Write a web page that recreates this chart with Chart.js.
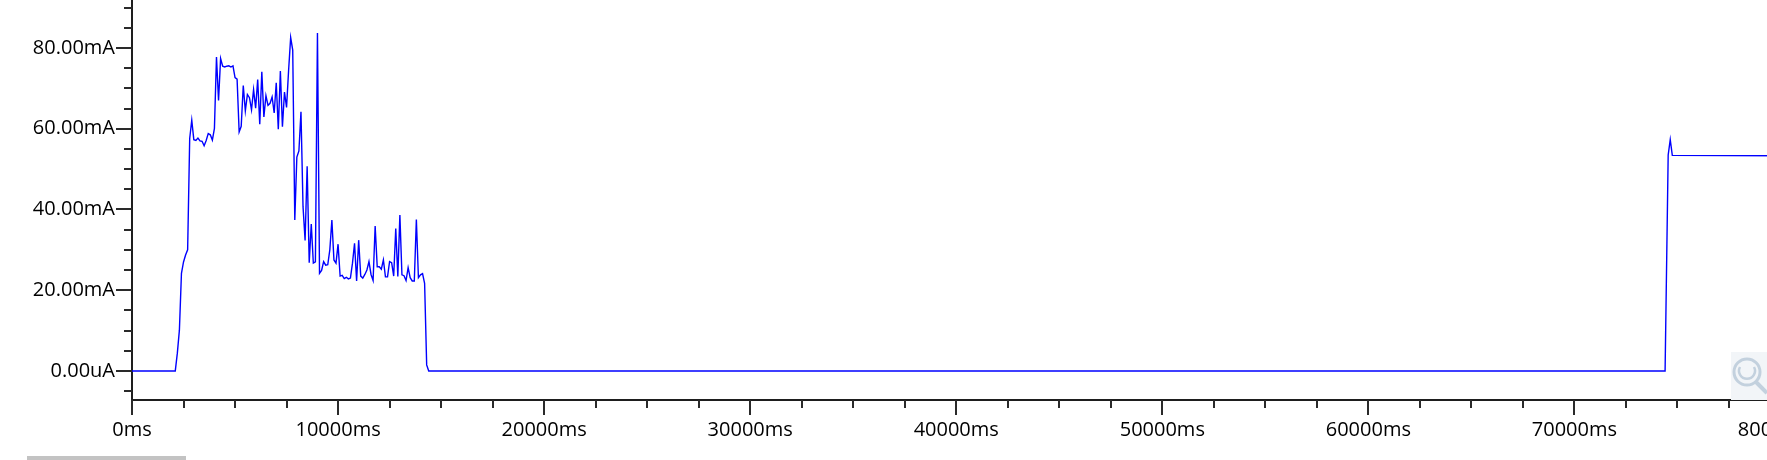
<!DOCTYPE html>
<html>
<head>
<meta charset="utf-8">
<script src="https://cdn.jsdelivr.net/npm/chart.js@4/dist/chart.umd.min.js"></script>
<style>
    html, body { margin: 0; padding: 0; background: #fff; overflow: hidden; width: 1767px; height: 460px; }
    #wrap { position: absolute; left: 0; top: 0; width: 1900px; height: 460px; }
    #scrollbar { position: absolute; left: 27px; top: 456px; width: 159px; height: 4px; background: #c3c3c3; }
    #zoomIcon { position: absolute; left: 1731px; top: 352px; }
</style>
</head>
<body>
<div id="wrap"><canvas id="current-log" width="1900" height="460"></canvas></div>
<div id="scrollbar"></div>
<svg id="zoomIcon" width="36" height="48">
    <rect x="0" y="0" width="36" height="48" fill="#f2f5f8"/>
    <circle cx="16" cy="20" r="13" fill="none" stroke="#c3d1de" stroke-width="3"/>
    <path d="M 9 15 A 8 8 0 1 0 23 15" fill="none" stroke="#c3d1de" stroke-width="2.5"/>
    <line x1="25" y1="30" x2="36" y2="41" stroke="#c3d1de" stroke-width="4"/>
</svg>
<script>
// time axis (ms)
const xMajorTicks = [0, 10000, 20000, 30000, 40000, 50000, 60000, 70000, 80000];
const xTickLabels = ['0ms', '10000ms', '20000ms', '30000ms', '40000ms', '50000ms', '60000ms', '70000ms', '80000ms'];
const xMinorStep = 2500;

// current axis (mA)
const yMajorTicks = [0, 20, 40, 60, 80];
const yTickLabels = ['0.00uA', '20.00mA', '40.00mA', '60.00mA', '80.00mA'];
const yMinorStep = 5;

// idle before the burst
const leadTimes = [0];
const leadValues = [0];

// burst, one sample every 100ms starting at 2100ms
const burstStartMs = 2100;
const sampleMs = 100;
const burstValues = [
    0, 4.4, 10.1, 24.2, 27, 28.7, 30, 57.6, 62.1, 57.3,
    57.1, 57.7, 57.0, 56.9, 55.8, 57.1, 58.8, 58.5, 57.2, 60.1,
    77.8, 67, 77.4, 75.5, 75.3, 75.5, 75.6, 75.3, 75.6, 72.7,
    72.3, 59.2, 60.6, 70.7, 64.4, 68.5, 67.7, 64.7, 69.7, 65.1,
    72.2, 61.1, 74.1, 62.9, 68.2, 65.8, 66.3, 67.9, 63.9, 71.4,
    59.9, 74.3, 60.5, 69.1, 65.3, 74.5, 82.6, 79.5, 37.4, 53,
    54.5, 64.2, 40.7, 32.3, 50.7, 26.8, 36.4, 26.7, 27, 83.7,
    24.2, 24.9, 27.1, 26.2, 26.3, 30, 37.4, 27.5, 26.7, 31.4,
    23.5, 23.7, 22.9, 23.2, 22.8, 23, 26.7, 31.6, 22.3, 32.4,
    23.5, 23, 23.9, 25, 27.1, 23.9, 22.4, 35.9, 25.8, 25.8,
    25.2, 27.5, 23.3, 23.3, 27.1, 26.8, 23.5, 35.3, 23.4, 38.6,
    23.8, 23.6, 22.4, 25.6, 23.1, 22.3, 22.3, 37.5, 23.1, 23.8,
    24.1, 21.7, 1.5, 0
];

// idle then second step up
const tailTimes = [74400, 74550, 74650, 74750, 80000];
const tailValues = [0, 53.5, 57.3, 53.4, 53.3];

const points = []
leadTimes.forEach((t, i) => points.push({ x: t, y: leadValues[i] }))
burstValues.forEach((v, i) => points.push({ x: burstStartMs + i * sampleMs, y: v }))
tailTimes.forEach((t, i) => points.push({ x: t, y: tailValues[i] }))

function stepTicks(min, max, step) {
    const out = []
    for (let v = min; v <= max; v += step) out.push({ value: v })
    return out
}

// draws major / minor tick marks outside the plot
const tickMarks = {
    id: 'tickMarks',
    afterDraw(chart) {
        const ctx = chart.ctx
        const area = chart.chartArea
        const xs = chart.scales.x
        const ys = chart.scales.y
        ctx.save()
        ctx.strokeStyle = '#2a2a2a'
        ctx.lineWidth = 2
        ctx.beginPath()
        ys.ticks.forEach(t => {
            const y = Math.round(ys.getPixelForValue(t.value))
            const len = yMajorTicks.includes(t.value) ? 16 : 8
            ctx.moveTo(area.left - len, y)
            ctx.lineTo(area.left, y)
        })
        xs.ticks.forEach(t => {
            const x = Math.round(xs.getPixelForValue(t.value))
            const len = xMajorTicks.includes(t.value) ? 15 : 8
            ctx.moveTo(x, area.bottom)
            ctx.lineTo(x, area.bottom + len)
        })
        ctx.stroke()
        ctx.restore()
    }
}

Chart.defaults.font.family = '"Open Sans", sans-serif'
Chart.defaults.font.size = 20
Chart.defaults.color = '#000'

new Chart(
    document.getElementById('current-log'),
    {
        type: 'line',
        data: {
            datasets: [
                {
                    label: 'Current',
                    data: points,
                    borderColor: '#0000ff',
                    borderWidth: 1.4,
                    pointRadius: 0,
                    tension: 0,
                    fill: false
                }
            ]
        },
        options: {
            responsive: false,
            animation: false,
            devicePixelRatio: 1,
            layout: { padding: 0 },
            plugins: {
                legend: { display: false },
                tooltip: { enabled: false }
            },
            scales: {
                x: {
                    type: 'linear',
                    min: 0,
                    max: 85800,
                    afterBuildTicks: scale => { scale.ticks = stepTicks(0, 85000, xMinorStep) },
                    afterFit: scale => { scale.height = 60; scale.paddingLeft = 0; scale.paddingRight = 0 },
                    grid: { drawOnChartArea: false, drawTicks: true, tickLength: 15, color: 'transparent' },
                    border: { display: true, color: '#1e1e1e', width: 2 },
                    ticks: {
                        autoSkip: false,
                        maxRotation: 0,
                        minRotation: 0,
                        padding: 3,
                        callback: value => {
                            const i = xMajorTicks.indexOf(value)
                            return i >= 0 ? xTickLabels[i] : ''
                        }
                    }
                },
                y: {
                    type: 'linear',
                    min: -7.2,
                    max: 91.9,
                    afterBuildTicks: scale => { scale.ticks = stepTicks(-5, 90, yMinorStep) },
                    afterFit: scale => { scale.width = 132; scale.paddingTop = 0; scale.paddingBottom = 0 },
                    grid: { drawOnChartArea: false, drawTicks: true, tickLength: 16, color: 'transparent' },
                    border: { display: true, color: '#1e1e1e', width: 2 },
                    ticks: {
                        autoSkip: false,
                        padding: 1,
                        callback: value => {
                            const i = yMajorTicks.indexOf(value)
                            return i >= 0 ? yTickLabels[i] : ''
                        }
                    }
                }
            }
        },
        plugins: [tickMarks]
    }
)
</script>
</body>
</html>
